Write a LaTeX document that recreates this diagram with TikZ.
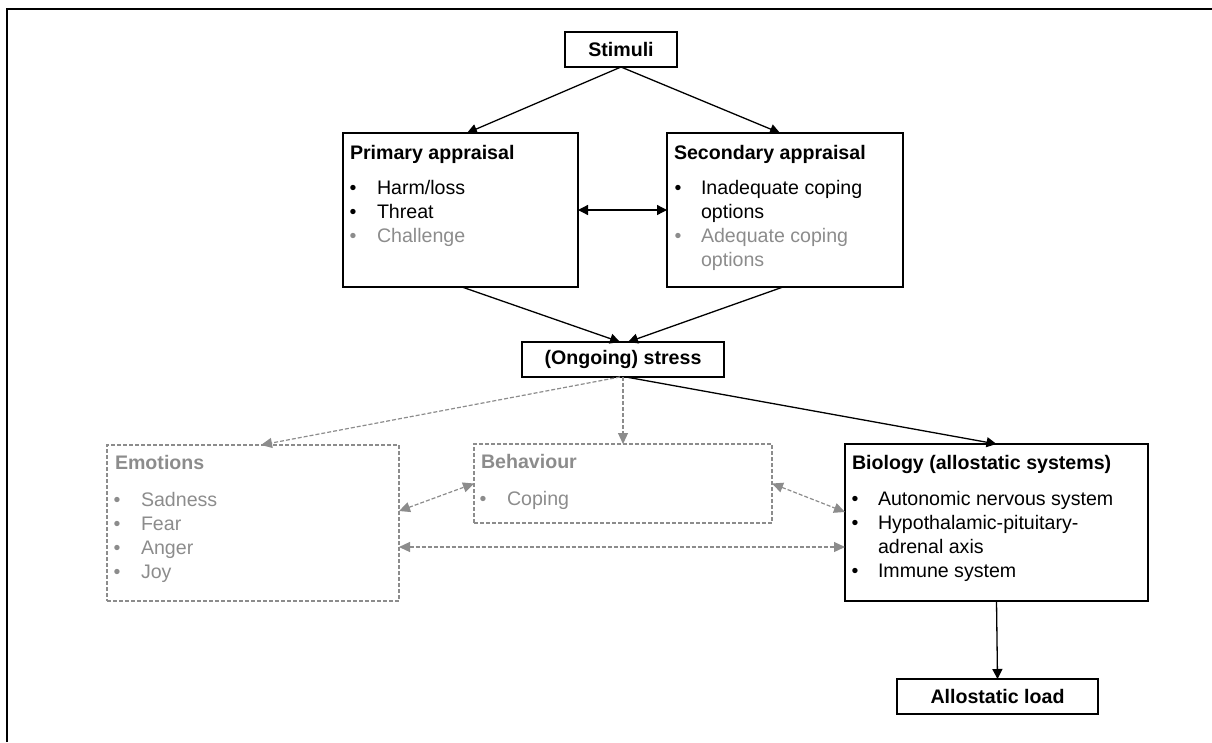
\documentclass[tikz,border=0pt]{standalone}
\usepackage{fontspec}
\setmainfont{Liberation Sans}
\usetikzlibrary{arrows.meta,calc}
\definecolor{lightgray}{HTML}{8C8C8C}
\begin{document}
\begin{tikzpicture}[x=1pt,y=-1pt,
  every node/.style={font=\fontsize{19.6}{24}\selectfont, inner sep=0pt, outer sep=0pt},
  solidbox/.style={draw=black, line width=1.3pt, rectangle, anchor=north west},
  dashbox/.style={draw=lightgray, line width=1.2pt, dash pattern=on 4pt off 2pt, rectangle, anchor=north west},
  ttl/.style={anchor=base west, font=\fontsize{19.6}{24}\selectfont\bfseries},
  itm/.style={anchor=base west},
  bul/.style={anchor=base},
  grey/.style={text=lightgray},
  blackarrow/.style={draw=black, line width=1.3pt, -{Triangle[length=10pt,width=10pt]}},
  blackdbl/.style={draw=black, line width=1.3pt, {Triangle[length=10pt,width=10pt]}-{Triangle[length=10pt,width=10pt]}},
  greyarrow/.style={draw=lightgray, line width=1.2pt, dash pattern=on 4pt off 2pt, -{Triangle[length=11pt,width=10pt]}},
  greydbl/.style={draw=lightgray, line width=1.2pt, dash pattern=on 4pt off 2pt, {Triangle[length=11pt,width=10pt]}-{Triangle[length=11pt,width=10pt]}},
]
\useasboundingbox (0,0) rectangle (1212,742);
% frame
\draw[line width=1.5pt] (7,742) -- (7,9) -- (1212,9);

% boxes
\node[solidbox, minimum width=112, minimum height=35] (stim) at (565,32) {};
\node[ttl, anchor=center] (stimt) at (stim.center) {Stimuli};

\node[solidbox, minimum width=235, minimum height=154] (prim) at (343,133) {};
\node[ttl] (p0) at (350,159) {Primary appraisal};
\node[bul] (pb1) at (353,194) {•};
\node[itm] (p1) at (377,194) {Harm/loss};
\node[bul] (pb2) at (353,218) {•};
\node[itm] (p2) at (377,218) {Threat};
\node[bul, grey] (pb3) at (353,242) {•};
\node[itm, grey] (p3) at (377,242) {Challenge};

\node[solidbox, minimum width=236, minimum height=154] (sec) at (667,133) {};
\node[ttl] (s0) at (674,159) {Secondary appraisal};
\node[bul] (sb1) at (678,194) {•};
\node[itm] (s1) at (701,194) {Inadequate coping};
\node[itm] (s2) at (701,218) {options};
\node[bul, grey] (sb3) at (678,242) {•};
\node[itm, grey] (s3) at (701,242) {Adequate coping};
\node[itm, grey] (s4) at (701,266) {options};

\node[solidbox, minimum width=202, minimum height=35] (stress) at (522,342) {};
\node[ttl, anchor=center] (stresst) at (stress.center) {(Ongoing) stress};

\node[dashbox, minimum width=292, minimum height=156] (emot) at (107,445) {};
\node[ttl, grey] (e0) at (115,469) {Emotions};
\node[bul, grey] (eb1) at (117,506) {•};
\node[itm, grey] (e1) at (141,506) {Sadness};
\node[bul, grey] (eb2) at (117,530) {•};
\node[itm, grey] (e2) at (141,530) {Fear};
\node[bul, grey] (eb3) at (117,554) {•};
\node[itm, grey] (e3) at (141,554) {Anger};
\node[bul, grey] (eb4) at (117,578) {•};
\node[itm, grey] (e4) at (141,578) {Joy};

\node[dashbox, minimum width=298, minimum height=79] (beh) at (474,444) {};
\node[ttl, grey] (b0) at (481,468) {Behaviour};
\node[bul, grey] (bb1) at (483,505) {•};
\node[itm, grey] (b1) at (507,505) {Coping};

\node[solidbox, minimum width=303, minimum height=157] (bio) at (845,444) {};
\node[ttl] (g0) at (852,469) {Biology (allostatic systems)};
\node[bul] (gb1) at (855,505) {•};
\node[itm] (g1) at (878,505) {Autonomic nervous system};
\node[bul] (gb2) at (855,529) {•};
\node[itm] (g2) at (878,529) {Hypothalamic-pituitary-};
\node[itm] (g3) at (878,553) {adrenal axis};
\node[bul] (gb4) at (855,577) {•};
\node[itm] (g4) at (878,577) {Immune system};

\node[solidbox, minimum width=201, minimum height=35] (allo) at (897,679) {};
\node[ttl, anchor=center] (allot) at (allo.center) {Allostatic load};

% connectors
\draw[blackarrow] (stim.south) -- ([xshift=124pt]prim.north west);
\draw[blackarrow] (stim.south) -- ([xshift=113pt]sec.north west);
\draw[blackdbl] (prim.east) -- (sec.west);
\draw[blackarrow] ([xshift=119pt]prim.south west) -- ([xshift=-3pt]stress.north);
\draw[blackarrow] ([xshift=116pt]sec.south west) -- ([xshift=5pt]stress.north);
\draw[greyarrow] ([xshift=-3pt]stress.south) -- ([xshift=8pt]emot.north);
\draw[greyarrow] (stress.south) -- (beh.north);
\draw[blackarrow] ([xshift=3pt]stress.south) -- (bio.north);
\draw[greydbl] ([yshift=12pt]emot.east) -- (beh.west);
\draw[greydbl] (beh.east) -- ([yshift=10.5pt]bio.west);
\draw[greydbl] ([yshift=-24pt]emot.east) -- ([yshift=-24pt]emot.east -| bio.west);
\draw[blackarrow] (bio.south) -- (allo.north);
\end{tikzpicture}
\end{document}
